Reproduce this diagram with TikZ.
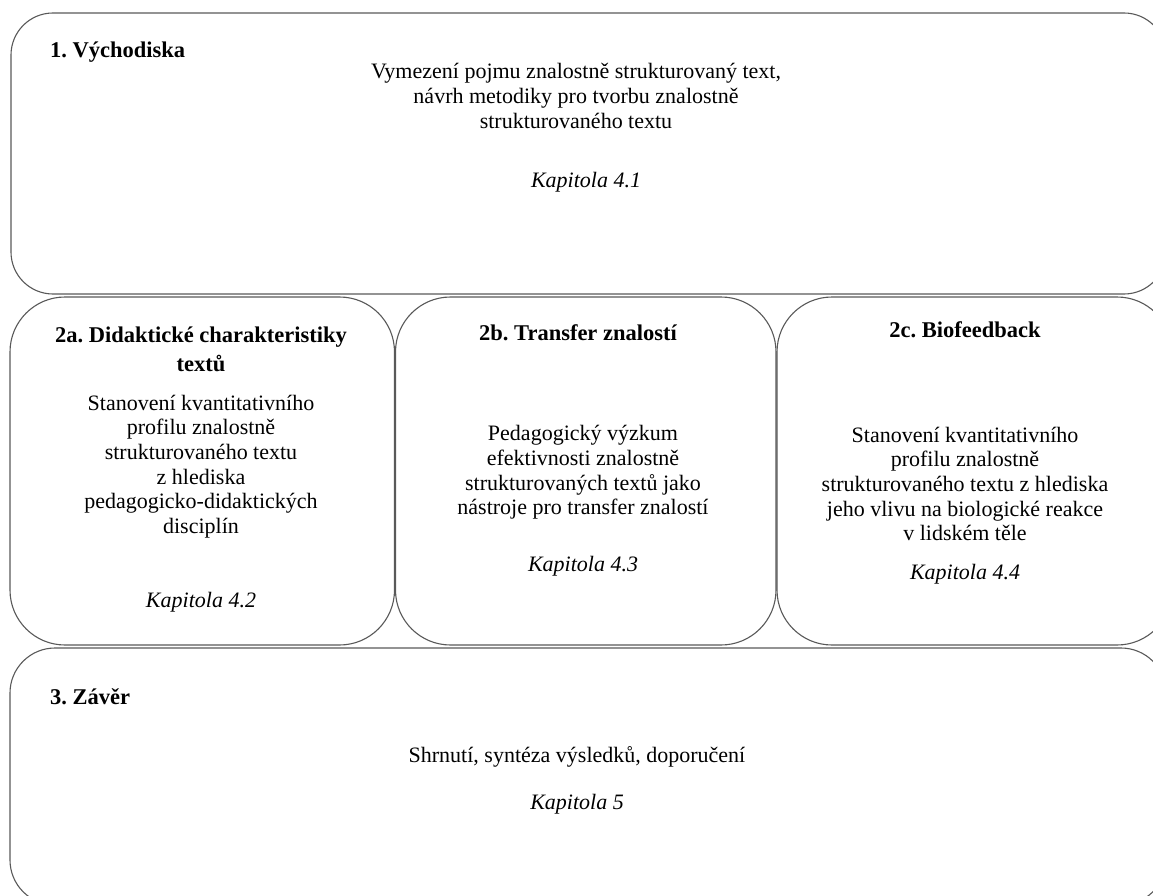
\documentclass[tikz,border=0pt]{standalone}
\usepackage{fontspec}
\setmainfont{Liberation Serif}
\frenchspacing
\begin{document}
\begin{tikzpicture}[x=1pt,y=-1pt,
  panel/.style={draw=black!65, line width=1.1pt},
  body/.style={align=center, font=\fontsize{22}{24.6}\selectfont, inner sep=0pt},
  ttl/.style={font=\fontsize{22.5}{29}\selectfont\bfseries, inner sep=0pt, align=center},
  chap/.style={font=\fontsize{22}{24.6}\selectfont\itshape, inner sep=0pt}]
\useasboundingbox (0,0) rectangle (1153,896);
% panels
\draw[panel, rounded corners=42pt] (11,13) rectangle (1166,294);
\draw[panel, rounded corners=55pt] (10,297) rectangle (394.5,645);
\draw[panel, rounded corners=55pt] (395.5,297) rectangle (776,645);
\draw[panel, rounded corners=55pt] (777,297) rectangle (1172,645);
\draw[panel, rounded corners=45pt] (10,648) rectangle (1166,905);
% 1
\node[ttl, anchor=west] (t1) at (50,52) {1. Východiska};
\node[body] (b1) at (576,96) {Vymezení pojmu znalostně strukturovaný text,\\návrh metodiky pro tvorbu znalostně\\strukturovaného textu};
\node[chap] (k1) at (586,182) {Kapitola 4.1};
% 2a
\node[ttl] (t2a) at (201,349) {2a. Didaktické charakteristiky\\textů};
\node[body] (b2a) at (201,466.5) {Stanovení kvantitativního\\profilu znalostně\\strukturovaného textu\\z hlediska\\pedagogicko-didaktických\\disciplín};
\node[chap] (k2a) at (201,602) {Kapitola 4.2};
% 2b
\node[ttl] (t2b) at (578,333) {2b. Transfer znalostí};
\node[body] (b2b) at (583,472.5) {Pedagogický výzkum\\efektivnosti znalostně\\strukturovaných textů jako\\nástroje pro transfer znalostí};
\node[chap] (k2b) at (583,566) {Kapitola 4.3};
% 2c
\node[ttl] (t2c) at (965,330) {2c. Biofeedback};
\node[body] (b2c) at (965,484) {Stanovení kvantitativního\\profilu znalostně\\strukturovaného textu z hlediska\\jeho vlivu na biologické reakce\\v lidském těle};
\node[chap] (k2c) at (965,574) {Kapitola 4.4};
% 3
\node[ttl, anchor=west] (t3) at (50,697) {3. Závěr};
\node[body] (b3) at (577,757) {Shrnutí, syntéza výsledků, doporučení};
\node[chap] (k3) at (577,804) {Kapitola 5};
\end{tikzpicture}
\end{document}
